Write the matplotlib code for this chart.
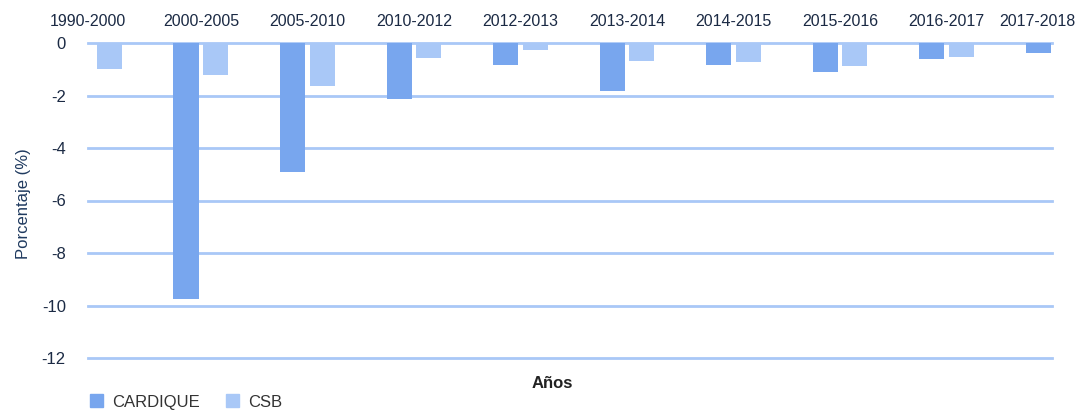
import numpy as np
import matplotlib.pyplot as plt
from matplotlib.patches import Patch

plt.rcParams["font.family"] = ["Liberation Sans", "DejaVu Sans"]

# datos (porcentaje de cambio por periodo)
periodos = ['1990-2000', '2000-2005', '2005-2010', '2010-2012', '2012-2013',
            '2013-2014', '2014-2015', '2015-2016', '2016-2017', '2017-2018']
cardique = [np.nan, -9.75, -4.9, -2.12, -0.84, -1.82, -0.84, -1.12, -0.6, -0.37]
csb = [-1.0, -1.2, -1.62, -0.57, -0.27, -0.7, -0.74, -0.88, -0.55, np.nan]
yticks = [0, -2, -4, -6, -8, -10, -12]

c_card = '#78A6EE'
c_csb = '#A9C8F7'
c_grid = '#A9C8F7'
c_text = '#1B2A44'

fig = plt.figure(figsize=(10.83, 4.12), dpi=100)
ax = fig.add_axes([88 / 1083, 1 - 358 / 412, (1052 - 88) / 1083, (358 - 43) / 412])

x = np.arange(len(periodos))
w = 0.235
ax.bar(x - 0.14, cardique, width=w, color=c_card, zorder=3)
ax.bar(x + 0.14, csb, width=w, color=c_csb, zorder=3)

for t in yticks:
    ax.axhline(t, color=c_grid, linewidth=2, zorder=1, clip_on=False)

ax.set_xlim(-0.05, 8.99)
ax.set_ylim(-12, 0)
for s in ax.spines.values():
    s.set_visible(False)

ax.set_yticks(yticks)
ax.set_yticklabels([str(t) for t in yticks], fontsize=12, color=c_text)
ax.tick_params(axis='y', length=0, pad=16)

# etiquetas de categoria arriba; la primera y la ultima se ajustan al borde
ax.xaxis.tick_top()
tick_pos = x.astype(float)
tick_pos[0] = -0.06
tick_pos[-1] = 8.85
ax.set_xticks(tick_pos)
ax.set_xticklabels(periodos, fontsize=11.5, color=c_text)
ax.tick_params(axis='x', length=0, pad=10)

ax.set_ylabel('Porcentaje (%)', fontsize=12, color='#1F3A5F')
ax.yaxis.set_label_coords(-0.059, 0.49)
fig.text(552 / 1083, 1 - 383 / 412, 'Años', fontsize=12, fontweight='bold',
         color='#222222', ha='center', va='center')

handles = [Patch(color=c_card, label='CARDIQUE'), Patch(color=c_csb, label='CSB')]
fig.legend(handles=handles, loc='center left', bbox_to_anchor=(75 / 1083, 1 - 402 / 412),
           ncol=2, frameon=False, fontsize=12, handlelength=0.8, handleheight=0.8,
           columnspacing=1.6, handletextpad=0.5, labelcolor='#333333')

fig.savefig('out.png', dpi=100)
